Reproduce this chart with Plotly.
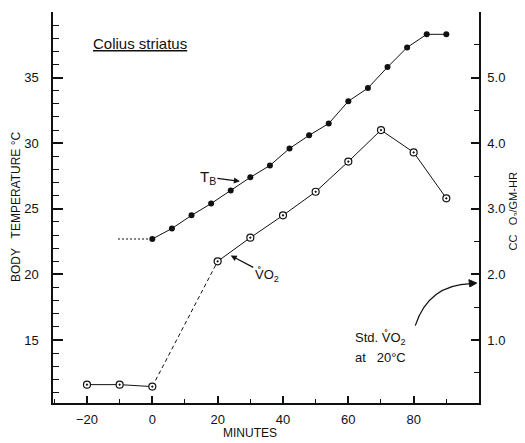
import plotly.graph_objects as go

# ---- data ----
tb_minutes = [0, 6, 12, 18, 24, 30, 36, 42, 48, 54, 60, 66, 72, 78, 84, 90]
tb_temp = [22.7, 23.5, 24.5, 25.4, 26.4, 27.4, 28.3, 29.6, 30.6, 31.5, 33.2, 34.2, 35.8, 37.3, 38.3, 38.3]
tb_base_minutes = [-10.5, 0]
tb_base_temp = [22.7, 22.7]

vo2_minutes = [-20, -10, 0, 20, 30, 40, 50, 60, 70, 80, 90]
vo2_values = [0.32, 0.32, 0.29, 2.2, 2.56, 2.9, 3.26, 3.72, 4.2, 3.86, 3.16]

x_ticks = [-20, 0, 20, 40, 60, 80]
y_ticks = [15, 20, 25, 30, 35]
y2_ticks = [1, 2, 3, 4, 5]
y2_ticktext = ["1.0", "2.0", "3.0", "4.0", "5.0"]

FONT = "Liberation Sans"
BLACK = "#111111"

fig = go.Figure()

# Body temperature
fig.add_trace(go.Scatter(x=tb_base_minutes, y=tb_base_temp, mode="lines",
                         line=dict(color=BLACK, width=1.2, dash="2px,2px"),
                         showlegend=False, hoverinfo="skip"))
fig.add_trace(go.Scatter(x=tb_minutes, y=tb_temp, mode="lines+markers",
                         line=dict(color=BLACK, width=1),
                         marker=dict(symbol="circle", size=6, color=BLACK),
                         showlegend=False))

# VO2 (right axis)
i0 = vo2_minutes.index(0)
i20 = vo2_minutes.index(20)
fig.add_trace(go.Scatter(x=vo2_minutes[:i0 + 1], y=vo2_values[:i0 + 1], mode="lines",
                         line=dict(color=BLACK, width=1), yaxis="y2",
                         showlegend=False, hoverinfo="skip"))
fig.add_trace(go.Scatter(x=vo2_minutes[i0:i20 + 1], y=vo2_values[i0:i20 + 1], mode="lines",
                         line=dict(color=BLACK, width=1, dash="4px,3px"), yaxis="y2",
                         showlegend=False, hoverinfo="skip"))
fig.add_trace(go.Scatter(x=vo2_minutes[i20:], y=vo2_values[i20:], mode="lines",
                         line=dict(color=BLACK, width=1), yaxis="y2",
                         showlegend=False, hoverinfo="skip"))
fig.add_trace(go.Scatter(x=vo2_minutes, y=vo2_values, mode="markers", yaxis="y2",
                         marker=dict(symbol="circle-dot", size=7, color="white",
                                     line=dict(color=BLACK, width=1.2)),
                         showlegend=False))

axis_common = dict(showgrid=False, zeroline=False, showline=True, linecolor=BLACK,
                   linewidth=1.5, ticks="inside", tickcolor=BLACK,
                   tickfont=dict(family=FONT, size=13, color=BLACK))

# page body has an 8px margin; figure sized to fit the window
fig.update_layout(
    width=517, height=435,
    margin=dict(l=44.5, r=46, t=4, b=39.7),
    paper_bgcolor="white", plot_bgcolor="white",
    xaxis=dict(range=[-30.4, 100], tickmode="array", tickvals=x_ticks,
               ticklen=7, tickwidth=1.5, ticklabelstandoff=4,
               minor=dict(tickmode="linear", tick0=0, dtick=10, ticklen=4,
                          ticks="inside", tickcolor=BLACK, tickwidth=1.2),
               **axis_common),
    yaxis=dict(range=[10.2, 40], tickmode="array", tickvals=y_ticks,
               ticklen=10, tickwidth=1.5, ticklabelstandoff=10,
               minor=dict(tickmode="linear", tick0=0, dtick=1, ticklen=6,
                          ticks="inside", tickcolor=BLACK, tickwidth=1.2),
               **axis_common),
    yaxis2=dict(range=[0.04, 6.0], overlaying="y", side="right", anchor="x",
                tickmode="array", tickvals=y2_ticks, ticktext=y2_ticktext,
                ticklen=8, tickwidth=1.5, ticklabelstandoff=4,
                minor=dict(tickmode="linear", tick0=0, dtick=0.5, ticklen=5,
                           ticks="inside", tickcolor=BLACK, tickwidth=1.2),
                **axis_common),
)

annots = []
# Species title
annots.append(dict(x=0, y=1, xref="paper", yref="paper", xshift=38, yshift=-31,
                   xanchor="left", yanchor="middle", showarrow=False,
                   text="Colius striatus",
                   font=dict(family=FONT, size=15, color=BLACK, lineposition="under")))
# T_B label with arrow (text at tail)
annots.append(dict(x=26.8, y=27.1, xref="x", yref="y", ax=-32, ay=-4,
                   showarrow=True, arrowhead=2, arrowsize=1, arrowwidth=1.2,
                   arrowcolor=BLACK, text="T<sub>B</sub>",
                   font=dict(family=FONT, size=15, color=BLACK)))
# VO2 label with arrow (text at tail)
annots.append(dict(x=24, y=21.44, xref="x", yref="y", ax=36, ay=19,
                   showarrow=True, arrowhead=2, arrowsize=1, arrowwidth=1.2,
                   arrowcolor=BLACK, text="V\u030aO<sub>2</sub>",
                   font=dict(family=FONT, size=13, color=BLACK)))
# Std VO2 text
annots.append(dict(x=61.5, y=15.15, xref="x", yref="y", showarrow=False,
                   xanchor="left", yanchor="middle",
                   text="Std. V\u030aO<sub>2</sub>", font=dict(family=FONT, size=13, color=BLACK)))
annots.append(dict(x=61.5, y=13.7, xref="x", yref="y", showarrow=False,
                   xanchor="left", yanchor="middle",
                   text="at &nbsp; 20\u00b0C", font=dict(family=FONT, size=13, color=BLACK)))
# axis titles
annots.append(dict(x=0, y=0.5, xref="paper", yref="paper", xshift=-37.5,
                   xanchor="center", yanchor="middle",
                   showarrow=False, textangle=-90,
                   text="BODY &nbsp; TEMPERATURE \u00b0C",
                   font=dict(family=FONT, size=12, color=BLACK)))
annots.append(dict(x=1, y=0.49, xref="paper", yref="paper", xshift=35,
                   xanchor="center", yanchor="middle",
                   showarrow=False, textangle=-90,
                   text="CC &nbsp; O<sub>2</sub>/GM-HR",
                   font=dict(family=FONT, size=11, color=BLACK)))
annots.append(dict(x=30, y=0, xref="x", yref="paper", yshift=-38.5,
                   xanchor="center", yanchor="bottom",
                   showarrow=False, text="MINUTES",
                   font=dict(family=FONT, size=12, color=BLACK)))
fig.update_layout(annotations=annots)

# curved arrow shaft and head (Std. VO2 pointer)
fig.add_shape(type="path", xref="x", yref="y",
              path="M 80.5,16.1 Q 84.5,19.2 97.5,19.3",
              line=dict(color=BLACK, width=1.2))
fig.add_shape(type="path", xref="x", yref="y",
              path="M 99.3,19.34 L 96.9,19.6 L 97.2,19.05 Z",
              fillcolor=BLACK, line=dict(color=BLACK, width=1))

fig.write_html("out.html")
